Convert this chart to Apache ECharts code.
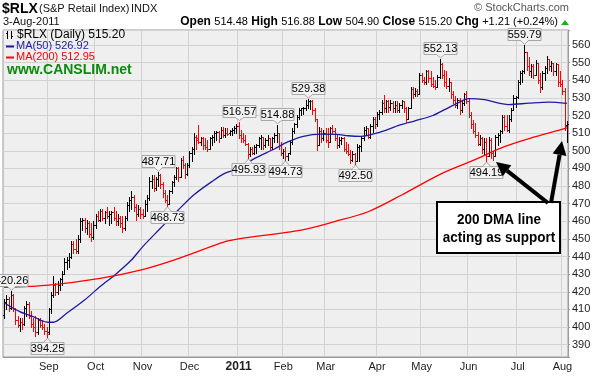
<!DOCTYPE html>
<html>
<head>
<meta charset="utf-8">
<script src="https://cdn.jsdelivr.net/npm/echarts/dist/echarts.min.js"></script>
<style>
  html, body { margin: 0; padding: 0; background: #fff; }
  #chart { width: 596px; height: 378px; }
</style>
</head>
<body>
<div id="chart"></div>
<script>
// daily bars, [open, high, low, close], one array per month
const aug10 = [[407,416,405,414],[414,418,410,416],[416,417,409,411],[411,420.26,410,418],[418,419,409,410],
  [410,411,402,404],[404,406,400,401],[401,405,398,403],[403,405,399,402],[402,412,401,411],
  [411,415,406,413],[413,414,405,406],[406,409,400,402],[402,405,398,400],[400,406,395,397],
  [397,405,396,404],[404,405,400,401],[401,404,399,400],[400,402,396,398],[398,400,394.25,396]];
const sep10 = [[397,411,396,410],[410,420,408,418],[418,429,417,424],[424,425,418,420],[420,426,419,424],
  [424,428,421,427],[427,432,424,430],[430,439,430,437],[437,440,433,438],[438,442,434,440],
  [440,449,439,447],[447,449,442,444],[444,450,442,443],[443,452,442,450],[450,462,448,460],
  [460,462,455,461],[461,462,454,456],[456,461,453,459],[459,460,451,453],[453,459,449,451],[451,460,450,458]];
const oct10 = [[458,464,456,463],[463,466,460,461],[461,467,460,466],[466,467,461,462],[462,466,459,465],
  [465,468,462,463],[463,466,458,464],[464,466,459,465],[465,468,461,462],[462,466,458,460],
  [460,464,458,462],[462,463,457,459],[459,463,454,456],[456,463,455,462],[462,471,461,469],
  [469,474,466,472],[472,477,467,474],[474,475,466,468],[468,470,461,464],[464,469,463,467],[467,468,462,464]];
const nov10 = [[464,467,462,463],[463,472,463,470],[470,475,466,473],[473,485,472,483],[483,486,479,484],
  [484,486,477,479],[479,485,478,484],[484,487.71,480,486],[486,487,479,481],[481,482,474,476],
  [476,478,471,472],[472,475,468.73,470],[470,478,470,477],[477,483,476,482],[482,486,480,485],
  [485,491,484,490],[490,491,483,485],[485,496,485,495],[495,497,490,492],[492,493,484.5,487],[487,493,486,492]];
const dec10 = [[492,500,491,499],[499,502,494,501],[501,510,498,508],[508,509,501,506],[507,514.5,504.5,505],
  [505,508,503,507],[507,508,501,503],[503,507,501,502],[502,506,500,501],[501,508,501,507],
  [507,509,503,508],[508,511,505,510],[510,511,506,510.5],[510.5,511,505,507],[507,513.5,507,512],
  [512,513.5,508,509],[509,513,508,510],[510,513,509,509.5],[510,512,509,511],[511,513,509,512],
  [512,514,510,513],[513,515,510,514]];
const jan11 = [[514,516.57,507,509],[509,512,505,507],[507,510,505,506],[506,509,503,504],[504,504.5,495.93,498],
  [498,502,497,501],[501,502,498,499],[499,503,498,502],[502,504,499,503],[503,508,502,507],
  [507,509,501,508],[508,508,501,503],[503,507,502,506],[506,509,503,507],[507,507.5,501,502],
  [502,508,501,507],[507,510,505,509],[509,514.88,505,510],[510,510,501,503],[503,505,497.6,499]];
const feb11 = [[499,501,496,500],[500,502,494.73,497],[497,499,495,498.5],[498.5,506,498,505],[505,513,504,511],
  [511,516,510,515],[515,520,513.5,519],[519,524,518,523],[523,524.5,520,524],[524,525,521,524.5],
  [524.5,528.8,523,526],[526,529.38,524,528],[528,529,523.5,528.5],[528.5,529,521,523],[523,524,517,518],
  [518,518,500.5,503],[503,513.5,503,511],[511,513,505,507],[507,512,506,510]];
const mar11 = [[510,513,505,506],[506,513,502,505],[505,513.5,505,513],[513,514.6,510,511],[511,513,506,507],
  [507,509,501.6,503],[503,508,502,506],[506,508,504,507],[507,508,500,501],[501,505,499,500],
  [500,504,497.6,498],[498,500.7,493,495],[495,500,494,498],[498,499,492.5,494],[494,504,494,502],
  [502,503,494,502.5],[502.5,508,500,507],[507,513.5,506,512],[512,514,509,513],[513,513,507,508],
  [508,515,507,514],[514,519,510.6,518],[518,519,513,515]];
const apr11 = [[515,522,514,521],[521,523,518,522],[522,528.8,521,527],[527,531.6,522,524],[524,529,522,528],
  [528,529,522,525],[525,529,523,527],[527,528,522,524],[524,528,522,526],[526,528,522,523],
  [523,527,522,526],[526,529,524,528],[528,528.5,522,524],[524,525,516.5,518],[518,525,518,524],
  [524,536,524,535],[535,536,530,532],[532,535.6,531,534],[534,535,531,532],[532,544,532,543]];
const may11 = [[543,544,539,540],[540,542,538,539],[539,546,538,545],[545,546,539,541],[541,545,537,538],
  [538,542,536,537],[537,540,535,536],[536,543,536,542],[542,552.13,541,549],[549,550,541,543],
  [543,546,537,539],[539,545,535.6,537],[537,541,534,539],[539,539,530,532],[532,534,527,529],
  [529,531,525,526],[526,530,524,529],[529,530,521,523],[523,528,522,527],[527,533,526,532],[532,534,527,528]];
const jun11 = [[528,530,519,520],[520,522,513,515],[515,517.6,510,511],[511,516,508,509],[509,510.6,503,504],
  [504,509,503,507],[507,508,499,501],[501,507,498,505],[505,507,494.19,497],[497,508,497,506],
  [506,507,496,499],[499,500,495,497],[497,509,497,508],[508,510,503,509],[509,512,505,511],
  [511,520,510,519],[519,520,512,514],[514,520,511,512],[512,520,510.6,518],[518,524,517,523],
  [523,531.6,523,530],[530,531,525,530.5]];
const jul11 = [[530.5,540,530,539],[539,545,538,544],[544,546,539,545],[545,559.79,544,556],[556,556,545.8,548],
  [548,553,543,545],[545,549,542,548],[548,549,541,543],[543,551.5,543,550],[550,550,538.6,540],
  [540,544,533.5,536],[536,545,535,544],[544,548,540,547],[547,553.5,544,552],[552,552,546,548],
  [548,551,545,550],[550,550,543,545],[545,550,543,549],[549,549,537,539],[539,545,537,538]];
const aug11 = [[538,540,532,534],[534,535.6,512,513.99],[514.48,516.88,504.90,515.20]];

// moving averages: [bar index, value]
const ma50 = [[0,413.8],[7,408.7],[13,405.9],[19,402.8],[22,402.7],[28,407.8],[36,415.3],[43,423],[50,430],
  [57,438],[62,445.5],[70,456],[78,466.4],[85,475],[93,482.5],[99,487.3],[105,490],[112,495.5],[121,501],
  [127,505],[134,508.2],[142,509.4],[149,509.3],[154,508.5],[160,508.2],[169,510.8],[177,514.5],[184,517],
  [192,520],[198,523.8],[203,527],[208,529.6],[215,529],[226,526.2],[235,527],[244,527.6],[252,526.92]];
const ma200 = [[0,422.5],[20,423.8],[43,427.6],[61,432.3],[76,438],[99,448.4],[105,450],[133,455],[148,459.8],
  [163,465.4],[178,474.9],[195,486.5],[210,494.5],[224,502.3],[238,508],[246,510.8],[252,512.95]];

const peakTags = [[3,420.26],[69,487.71],[105,516.57],[122,514.88],[136,529.38],[195,552.13],[233,559.79]];
const troughTags = [[19,394.25],[73,468.73],[109,495.93],[126,494.73],[157,492.50],[216,494.19]];

const holidays = ['2010-09-06','2010-11-25','2010-12-24','2011-01-17','2011-02-21','2011-04-22','2011-05-30','2011-07-04'];
const monthNames = ['Jan','Feb','Mar','Apr','May','Jun','Jul','Aug','Sep','Oct','Nov','Dec'];

// trading days 4-Aug-2010 .. 3-Aug-2011
const dates = [];
for (let d = new Date(Date.UTC(2010, 7, 4)); d <= new Date(Date.UTC(2011, 7, 3)); d.setUTCDate(d.getUTCDate() + 1)) {
  const s = d.toISOString().slice(0, 10);
  const wd = d.getUTCDay();
  if (wd === 0 || wd === 6 || holidays.includes(s)) continue;
  dates.push(s);
}
const isMonthStart = (i) => i > 0 && dates[i].slice(5, 7) !== dates[i - 1].slice(5, 7);

const bars = [].concat(aug10, sep10, oct10, nov10, dec10, jan11, feb11, mar11, apr11, may11, jun11, jul11, aug11);
const barData = bars.map((b, i) => {
  const prev = i > 0 ? bars[i - 1][3] : b[0];
  return [i, b[0], b[1], b[2], b[3], b[3] < prev ? 1 : 0];
});

const FONT = '"Liberation Sans", Arial, sans-serif';

function renderBar(params, api) {
  const i = api.value(0);
  const o = api.coord([i, api.value(1)]);
  const h = api.coord([i, api.value(2)]);
  const l = api.coord([i, api.value(3)]);
  const c = api.coord([i, api.value(4)]);
  const x = Math.round(h[0]) + 0.5;
  const color = api.value(5) ? '#ff0000' : '#000000';
  const st = { stroke: color, lineWidth: 1 };
  return {
    type: 'group',
    children: [
      { type: 'line', shape: { x1: x, y1: Math.round(h[1]), x2: x, y2: Math.round(l[1]) + 1 }, style: st },
      { type: 'line', shape: { x1: x - 1.5, y1: Math.round(o[1]) + 0.5, x2: x, y2: Math.round(o[1]) + 0.5 }, style: st },
      { type: 'line', shape: { x1: x, y1: Math.round(c[1]) + 0.5, x2: x + 1.5, y2: Math.round(c[1]) + 0.5 }, style: st }
    ]
  };
}

function renderTag(params, api) {
  const pt = api.coord([api.value(0), api.value(1)]);
  const up = api.value(2) === 1;
  const txt = api.value(1).toFixed(2);
  const w = 33, h = 12, gap = 5;
  const cx = Math.round(pt[0]) + 0.5;
  const by = up ? Math.round(pt[1] - gap - h) + 0.5 : Math.round(pt[1] + gap) + 0.5;
  const edge = up ? by + h : by;
  const tip = up ? pt[1] - 1 : pt[1] + 1;
  return {
    type: 'group',
    children: [
      { type: 'polygon', shape: { points: [[cx - 4, edge], [cx, tip], [cx + 4, edge]] },
        style: { fill: '#f2f2f2', stroke: '#a8a8a8', lineWidth: 1 } },
      { type: 'rect', shape: { x: cx - w / 2, y: by, width: w, height: h },
        style: { fill: '#f2f2f2', stroke: '#a8a8a8', lineWidth: 1 } },
      { type: 'rect', shape: { x: cx - 3.5, y: up ? by + h - 1.5 : by, width: 7, height: 2 },
        style: { fill: '#f2f2f2' } },
      { type: 'text', x: cx, y: by + h / 2 + 0.5,
        style: { text: txt, font: '11px ' + FONT, fill: '#000', align: 'center', verticalAlign: 'middle',
                 textAlign: 'center', textVerticalAlign: 'middle' } }
    ]
  };
}

function arrow(tail, tip) {
  const dx = tip[0] - tail[0], dy = tip[1] - tail[1];
  const len = Math.sqrt(dx * dx + dy * dy);
  const ux = dx / len, uy = dy / len, nx = -uy, ny = ux;
  const bx = tip[0] - ux * 14, by = tip[1] - uy * 14;
  return [
    { type: 'line', shape: { x1: tail[0], y1: tail[1], x2: bx, y2: by }, style: { stroke: '#000', lineWidth: 4 }, z: 100 },
    { type: 'polygon', shape: { points: [tip, [bx + nx * 7, by + ny * 7], [bx - nx * 7, by - ny * 7]] },
      style: { fill: '#000' }, z: 100 }
  ];
}

function txt(x, y, text, font, fill, align) {
  return { type: 'text', x: x, y: y, z: 100,
    style: { text: text, font: font, fill: fill || '#000', align: align || 'left', verticalAlign: 'middle',
             textAlign: align || 'left', textVerticalAlign: 'middle' } };
}

// callout text, a bit condensed like the original (scaled around its own anchor)
function calloutText(y, text) {
  const t = txt(499, y, text, 'bold 15px ' + FONT, '#000', 'center');
  t.scaleX = 0.9;
  return t;
}

const chart = echarts.init(document.getElementById('chart'));

chart.setOption({
  animation: false,
  backgroundColor: '#fff',
  grid: { left: 3, right: 28, top: 30, bottom: 21, show: true, backgroundColor: '#efefef', borderColor: '#9a9a9a', borderWidth: 1 },
  xAxis: {
    type: 'category',
    data: dates,
    boundaryGap: true,
    axisLine: { show: true, lineStyle: { color: '#9a9a9a' } },
    axisTick: { show: false },
    splitLine: { show: true, interval: (i) => isMonthStart(i), lineStyle: { color: '#d2d2d2', width: 1 } },
    axisLabel: {
      interval: (i) => isMonthStart(i),
      margin: 4,
      fontFamily: FONT,
      fontSize: 11,
      color: '#222',
      formatter: (v) => {
        const m = +v.slice(5, 7);
        return m === 1 ? '{y|' + v.slice(0, 4) + '}' : monthNames[m - 1];
      },
      rich: { y: { fontWeight: 'bold', fontSize: 12, fontFamily: FONT, color: '#222' } }
    }
  },
  yAxis: {
    type: 'value',
    position: 'right',
    min: 383,
    max: 568.5,
    splitNumber: 18,
    axisLine: { show: true, lineStyle: { color: '#9a9a9a' } },
    axisTick: { show: true, length: 2, lineStyle: { color: '#9a9a9a' } },
    minorTick: { show: true, splitNumber: 5, length: 1, lineStyle: { color: '#9a9a9a' } },
    splitLine: { show: true, lineStyle: { color: '#d2d2d2', width: 1 } },
    axisLabel: { margin: 4, fontFamily: FONT, fontSize: 11, color: '#222', showMinLabel: false, showMaxLabel: false }
  },
  series: [
    {
      type: 'custom',
      renderItem: renderBar,
      data: barData,
      encode: { x: 0, y: [1, 2, 3, 4] },
      z: 2
    },
    {
      type: 'line',
      data: ma50,
      showSymbol: false,
      smooth: 0.3,
      lineStyle: { color: '#1c1ca0', width: 1.3 },
      z: 3
    },
    {
      type: 'line',
      data: ma200,
      showSymbol: false,
      smooth: 0.3,
      lineStyle: { color: '#ff0000', width: 1.3 },
      z: 3
    },
    {
      type: 'custom',
      renderItem: renderTag,
      data: peakTags.map((t) => [t[0], t[1], 1]).concat(troughTags.map((t) => [t[0], t[1], 0])),
      encode: { x: 0, y: 1 },
      z: 5
    }
  ],
  graphic: [
    txt(2, 9, '$RLX', 'bold 14px ' + FONT),
    txt(39, 9, '(S&P Retail Index)', '11px ' + FONT, '#111'),
    txt(131, 9, 'INDX', '11px ' + FONT, '#111'),
    txt(3, 22, '3-Aug-2011', '11px ' + FONT, '#111'),
    txt(569, 8, '© StockCharts.com', '11px ' + FONT, '#555', 'right'),
    {
      type: 'text', x: 558, y: 22, z: 100,
      style: {
        text: '{b|Open} {n|514.48} {b|High} {n|516.88} {b|Low} {n|504.90} {b|Close} {n|515.20} {b|Chg} {n|+1.21 (+0.24%)}',
        align: 'right', verticalAlign: 'middle', textAlign: 'right', textVerticalAlign: 'middle',
        rich: {
          b: { font: 'bold 12px ' + FONT, fill: '#000', fontWeight: 'bold', fontSize: 12, fontFamily: FONT },
          n: { font: '11px ' + FONT, fill: '#000', fontSize: 11, fontFamily: FONT }
        }
      }
    },
    { type: 'polygon', z: 100, shape: { points: [[561, 25], [565, 20], [569, 25]] }, style: { fill: '#22aa22' } },
    // legend block inside the plot
    { type: 'line', z: 100, shape: { x1: 7.5, y1: 31, x2: 7.5, y2: 39 }, style: { stroke: '#000', lineWidth: 1 } },
    { type: 'line', z: 100, shape: { x1: 11.5, y1: 31, x2: 11.5, y2: 39 }, style: { stroke: '#000', lineWidth: 1 } },
    { type: 'line', z: 100, shape: { x1: 6, y1: 33.5, x2: 7.5, y2: 33.5 }, style: { stroke: '#000', lineWidth: 1 } },
    { type: 'line', z: 100, shape: { x1: 11.5, y1: 36.5, x2: 13, y2: 36.5 }, style: { stroke: '#000', lineWidth: 1 } },
    txt(17, 35, '$RLX (Daily) 515.20', '12px ' + FONT, '#000'),
    { type: 'line', z: 100, shape: { x1: 6, y1: 46.5, x2: 14, y2: 46.5 }, style: { stroke: '#1c1ca0', lineWidth: 2 } },
    txt(16, 46, 'MA(50) 526.92', '11px ' + FONT, '#1c1ca0'),
    { type: 'line', z: 100, shape: { x1: 6, y1: 57.5, x2: 14, y2: 57.5 }, style: { stroke: '#ff0000', lineWidth: 2 } },
    txt(16, 57, 'MA(200) 512.95', '11px ' + FONT, '#ff0000'),
    txt(7, 70, 'www.CANSLIM.net', 'bold 14px ' + FONT, '#0a8a0a'),
    // callout
    { type: 'rect', z: 100, shape: { x: 437, y: 202, width: 123, height: 51 }, style: { fill: '#fff', stroke: '#000', lineWidth: 2 } },
    calloutText(220, '200 DMA line'),
    calloutText(238, 'acting as support')
  ].concat(arrow([548, 203], [496, 162]), arrow([551, 203], [562, 141]))
});
</script>
</body>
</html>
